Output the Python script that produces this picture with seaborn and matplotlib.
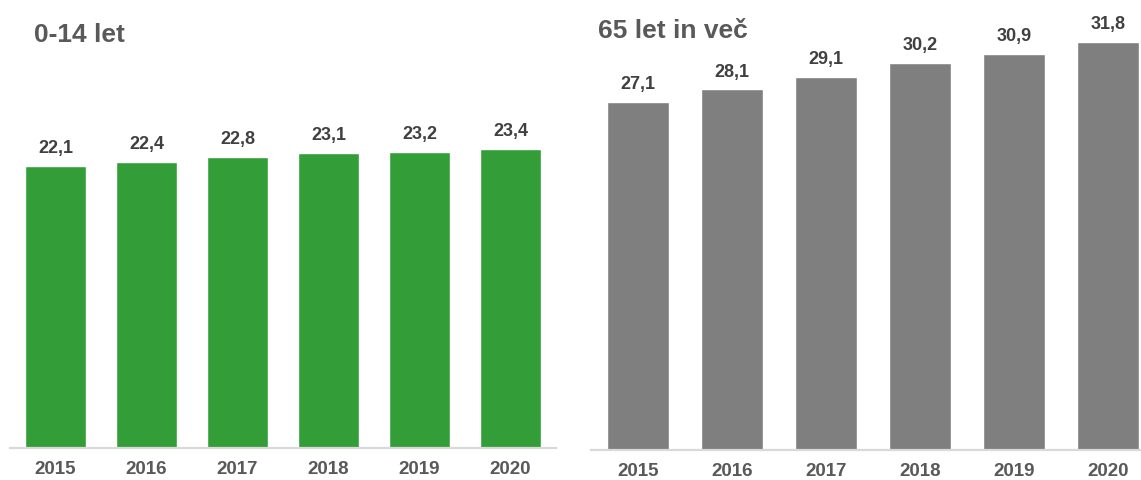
import matplotlib
matplotlib.use("Agg")
import matplotlib.pyplot as plt
import seaborn as sns
import pandas as pd

years = ["2015", "2016", "2017", "2018", "2019", "2020"]
young = [22.1, 22.4, 22.8, 23.1, 23.2, 23.4]
old = [27.1, 28.1, 29.1, 30.2, 30.9, 31.8]
title_young = "0-14 let"
title_old = "65 let in več"

sns.set_theme(style="white")
plt.rcParams["font.family"] = ["Liberation Sans", "DejaVu Sans"]

W, H = 1141, 481
fig = plt.figure(figsize=(W / 100, H / 100), dpi=100)

def px_axes(x0, x1, ybase):
    return fig.add_axes([x0 / W, (H - ybase) / H, (x1 - x0) / W, ybase / H])

ax1 = px_axes(10, 556, 449)
ax2 = px_axes(591, 1155, 451)

panels = [
    (ax1, young, "#339E37", title_young, 34, 42),
    (ax2, old, "#7F7F7F", title_old, 598, 38),
]

for ax, vals, color, title, tx, tby in panels:
    df = pd.DataFrame({"year": years, "value": vals})
    sns.barplot(data=df, x="year", y="value", color=color, width=0.67,
                saturation=1, ax=ax)
    ax.set_xlim(-0.5, 5.5)
    ax.set_ylim(0, 35.15)
    ax.set_xlabel("")
    ax.set_ylabel("")
    ax.set_yticks([])
    for s in ["top", "left", "right"]:
        ax.spines[s].set_visible(False)
    ax.spines["bottom"].set_color("#D9D9D9")
    ax.spines["bottom"].set_linewidth(1.6)
    ax.tick_params(axis="x", length=0, pad=9, labelsize=13.5, labelcolor="#595959")
    for lbl in ax.get_xticklabels():
        lbl.set_fontweight("bold")
    for i, v in enumerate(vals):
        ax.annotate(f"{v:.1f}".replace(".", ","), xy=(i, v), xytext=(0, 10),
                    textcoords="offset points", ha="center", va="baseline",
                    fontsize=13, fontweight="bold", color="#404040")
    fig.text(tx / W, 1 - tby / H, title, ha="left", va="baseline",
             fontsize=19, fontweight="bold", color="#595959")

fig.savefig("out.png", dpi=100)
